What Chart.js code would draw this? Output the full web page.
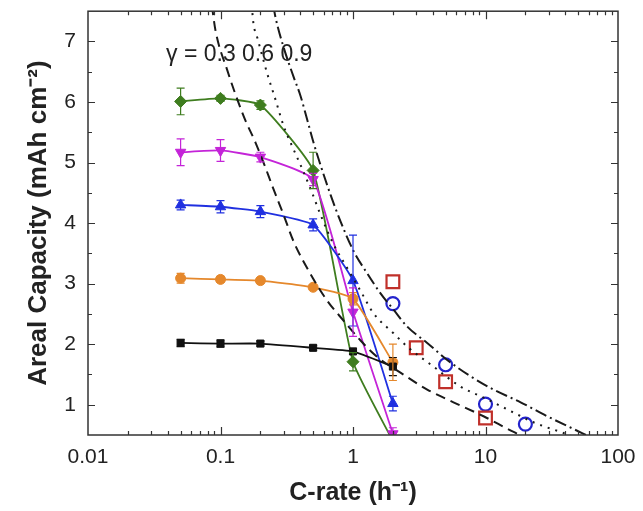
<!DOCTYPE html>
<html>
<head>
<meta charset="utf-8">
<script src="https://cdn.jsdelivr.net/npm/chart.js@4.4.0/dist/chart.umd.min.js"></script>
<style>
  html, body { margin: 0; padding: 0; background: #fff; }
</style>
</head>
<body>
<canvas id="chart" width="643" height="511"></canvas>
<script>
// C-rates of the measured cells (h^-1)
var rates = [0.05, 0.1, 0.2, 0.5, 1, 2];

// areal capacity per electrode, lowest to highest loading
var capBlack   = [2.02, 2.01, 2.01, 1.94, 1.88, 1.63];
var capOrange  = [3.09, 3.07, 3.05, 2.94, 2.75, 1.70];
var capBlue    = [4.30, 4.27, 4.19, 3.97, 3.05, 1.02];
var capMagenta = [5.17, 5.20, 5.09, 4.72, 2.53, 0.52];
var capGreen   = [6.01, 6.06, 5.95, 4.87, 1.71, 0.40];

// +/- error on each point
var errBlack   = [0.06, 0.06, 0.04, 0.04, 0.05, 0.15];
var errOrange  = [0.08, 0.05, 0.04, 0.04, 0.10, 0.30];
var errBlue    = [0.08, 0.10, 0.10, 0.10, 0.75, 0.12];
var errMagenta = [0.22, 0.18, 0.08, 0.10, 0.40, 0.10];
var errGreen   = [0.22, 0.05, 0.07, 0.30, 0.15, 0];

// literature points
var redRates = [2, 3, 5, 10];
var redCap   = [3.03, 1.94, 1.38, 0.78];
var circRates = [2, 5, 10, 20];
var circCap   = [2.67, 1.66, 1.01, 0.68];

// model curves, gamma = 0.3 / 0.6 / 0.9
var g03Rates = [0.086, 0.0917, 0.1123, 0.1492, 0.1837, 0.2112, 0.2512, 0.2988, 0.3556, 0.4775, 0.6383, 0.8475, 1.14, 1.523, 2.281, 3.631, 5.73, 9.66, 16.3, 22];
var g03Cap   = [7.6, 7.18, 6.53, 5.77, 5.33, 5.00, 4.56, 4.14, 3.70, 3.16, 2.72, 2.39, 2.06, 1.79, 1.53, 1.25, 1.04, 0.81, 0.55, 0.42];
var g06Rates = [0.172, 0.1774, 0.1892, 0.2252, 0.26, 0.2988, 0.3556, 0.4018, 0.4775, 0.5684, 0.7129, 0.9036, 1.14, 1.429, 2.023, 2.566, 4.05, 6.48, 10.3, 16.3, 23.0, 36.8, 45];
var g06Cap   = [7.6, 7.29, 7.07, 6.47, 6.04, 5.61, 5.22, 4.96, 4.57, 4.14, 3.65, 3.26, 2.88, 2.51, 2.18, 1.96, 1.63, 1.30, 1.09, 0.87, 0.71, 0.55, 0.48];
var g09Rates = [0.25, 0.26, 0.2988, 0.3556, 0.4018, 0.4508, 0.5035, 0.5684, 0.6761, 0.8047, 1.009, 1.28, 1.613, 2.023, 2.566, 3.631, 5.14, 7.71, 11.5, 18.4, 29.2, 46.1, 58.6];
var g09Cap   = [7.6, 7.40, 6.91, 6.42, 6.10, 5.71, 5.33, 4.96, 4.47, 4.03, 3.54, 3.17, 2.84, 2.57, 2.29, 2.02, 1.74, 1.47, 1.25, 1.04, 0.81, 0.60, 0.49];

var xTicks = [0.01, 0.1, 1, 10, 100];
var yTicks = [1, 2, 3, 4, 5, 6, 7];

function pts(xs, ys) {
    return xs.map(function (x, i) { return { x: x, y: ys[i] }; });
}

function series(ys, errs, color, style, rot, r) {
    return {
        data: pts(rates, ys),
        errors: errs,
        borderColor: color,
        backgroundColor: color,
        borderWidth: 1.8,
        pointStyle: style,
        pointRotation: rot,
        pointRadius: r,
        pointBorderWidth: 1,
        tension: 0.15
    };
}

function model(xs, ys, dash) {
    return {
        data: pts(xs, ys),
        borderColor: '#1a1a1a',
        borderWidth: 2,
        borderDash: dash,
        pointRadius: 0,
        cubicInterpolationMode: 'monotone'
    };
}

// error bars drawn on top of the series
var errorBars = {
    id: 'errorBars',
    afterDatasetsDraw: function (chart) {
        var ctx = chart.ctx, a = chart.chartArea;
        var xs = chart.scales.x, ys = chart.scales.y;
        ctx.save();
        ctx.beginPath();
        ctx.rect(a.left, a.top, a.right - a.left, a.bottom - a.top);
        ctx.clip();
        chart.data.datasets.forEach(function (ds) {
            if (!ds.errors) return;
            ctx.strokeStyle = ds.borderColor;
            ctx.lineWidth = 1.2;
            ds.data.forEach(function (p, i) {
                var e = ds.errors[i];
                if (!e) return;
                var x = xs.getPixelForValue(p.x);
                var y1 = ys.getPixelForValue(p.y + e);
                var y2 = ys.getPixelForValue(p.y - e);
                ctx.beginPath();
                ctx.moveTo(x, y1); ctx.lineTo(x, y2);
                ctx.moveTo(x - 4, y1); ctx.lineTo(x + 4, y1);
                ctx.moveTo(x - 4, y2); ctx.lineTo(x + 4, y2);
                ctx.stroke();
            });
        });
        ctx.restore();
    }
};

// box frame with inward ticks on all four sides
var frame = {
    id: 'frame',
    afterDraw: function (chart) {
        var ctx = chart.ctx, a = chart.chartArea;
        var xs = chart.scales.x, ys = chart.scales.y;
        ctx.save();
        ctx.strokeStyle = '#333';
        ctx.lineWidth = 1.5;
        ctx.strokeRect(a.left, a.top, a.right - a.left, a.bottom - a.top);
        ctx.lineWidth = 1.2;
        ctx.beginPath();
        for (var d = 0.01; d < 50; d *= 10) {
            for (var k = 1; k <= 9; k++) {
                var v = d * k;
                if (k == 1 && d == 0.01) continue;
                var px = Math.round(xs.getPixelForValue(v)) + 0.5;
                var len = k == 1 ? 8 : 4;
                ctx.moveTo(px, a.bottom); ctx.lineTo(px, a.bottom - len);
                ctx.moveTo(px, a.top); ctx.lineTo(px, a.top + len);
            }
        }
        for (var y = 1; y <= 7; y += 0.5) {
            var py = Math.round(ys.getPixelForValue(y)) + 0.5;
            var l = y % 1 == 0 ? 7 : 4;
            ctx.moveTo(a.left, py); ctx.lineTo(a.left + l, py);
            ctx.moveTo(a.right, py); ctx.lineTo(a.right - l, py);
        }
        ctx.stroke();

        ctx.fillStyle = '#222';
        ctx.font = '23px Arial, "Liberation Sans", sans-serif';
        ctx.textBaseline = 'middle';
        ctx.fillText('\u03b3 = 0.3 0.6 0.9', 166, 55);
        ctx.restore();
    }
};

Chart.defaults.font.family = 'Arial, "Liberation Sans", sans-serif';
Chart.defaults.color = '#222';

var ctx = document.getElementById('chart').getContext('2d');

var chart = new Chart(ctx, {
    type: 'line',
    data: {
        datasets: [
            model(g03Rates, g03Cap, [10, 6]),
            model(g06Rates, g06Cap, [2, 6]),
            model(g09Rates, g09Cap, [12, 4, 2, 4]),
            series(capBlack, errBlack, '#111111', 'rect', 0, 5),
            series(capOrange, errOrange, '#e5882c', 'circle', 0, 5),
            series(capBlue, errBlue, '#2030e0', 'triangle', 0, 6),
            series(capMagenta, errMagenta, '#c424d8', 'triangle', 180, 6),
            series(capGreen, errGreen, '#3f7d1f', 'rectRot', 0, 6),
            {
                data: pts(redRates, redCap),
                showLine: false,
                pointStyle: 'rect',
                pointRadius: 9,
                pointBorderWidth: 2.2,
                borderColor: '#c0302a',
                backgroundColor: 'rgba(255,255,255,0)'
            },
            {
                data: pts(circRates, circCap),
                showLine: false,
                pointStyle: 'circle',
                pointRadius: 6.5,
                pointBorderWidth: 2.2,
                borderColor: '#2424cc',
                backgroundColor: 'rgba(255,255,255,0)'
            }
        ]
    },
    options: {
        responsive: false,
        animation: false,
        layout: { padding: { left: 0, top: 7, right: 25, bottom: 0 } },
        plugins: {
            legend: { display: false },
            tooltip: { enabled: false }
        },
        scales: {
            x: {
                type: 'logarithmic',
                min: 0.01,
                max: 100,
                grid: { display: false, drawTicks: false },
                border: { display: false },
                afterBuildTicks: function (s) {
                    s.ticks = xTicks.map(function (v) { return { value: v }; });
                },
                afterFit: function (s) {
                    s.height = 76;
                    s.paddingLeft = 0;
                    s.paddingRight = 0;
                },
                ticks: {
                    autoSkip: false,
                    maxRotation: 0,
                    padding: 10,
                    font: { size: 21 },
                    callback: function (v) { return String(v); }
                },
                title: {
                    display: true,
                    text: 'C-rate (h\u207b\u00b9)',
                    font: { size: 25, weight: 'bold' },
                    padding: { top: 0, bottom: 3 }
                }
            },
            y: {
                min: 0.5,
                max: 7.5,
                grid: { display: false, drawTicks: false },
                border: { display: false },
                afterBuildTicks: function (s) {
                    s.ticks = yTicks.map(function (v) { return { value: v }; });
                },
                afterFit: function (s) {
                    s.width = 88;
                    s.paddingTop = 0;
                    s.paddingBottom = 0;
                },
                ticks: {
                    padding: 12,
                    font: { size: 21 }
                },
                title: {
                    display: true,
                    text: 'Areal Capacity (mAh cm\u207b\u00b2)',
                    font: { size: 26, weight: 'bold' },
                    padding: { top: 23, bottom: 0 }
                }
            }
        }
    },
    plugins: [errorBars, frame]
});
</script>
</body>
</html>
